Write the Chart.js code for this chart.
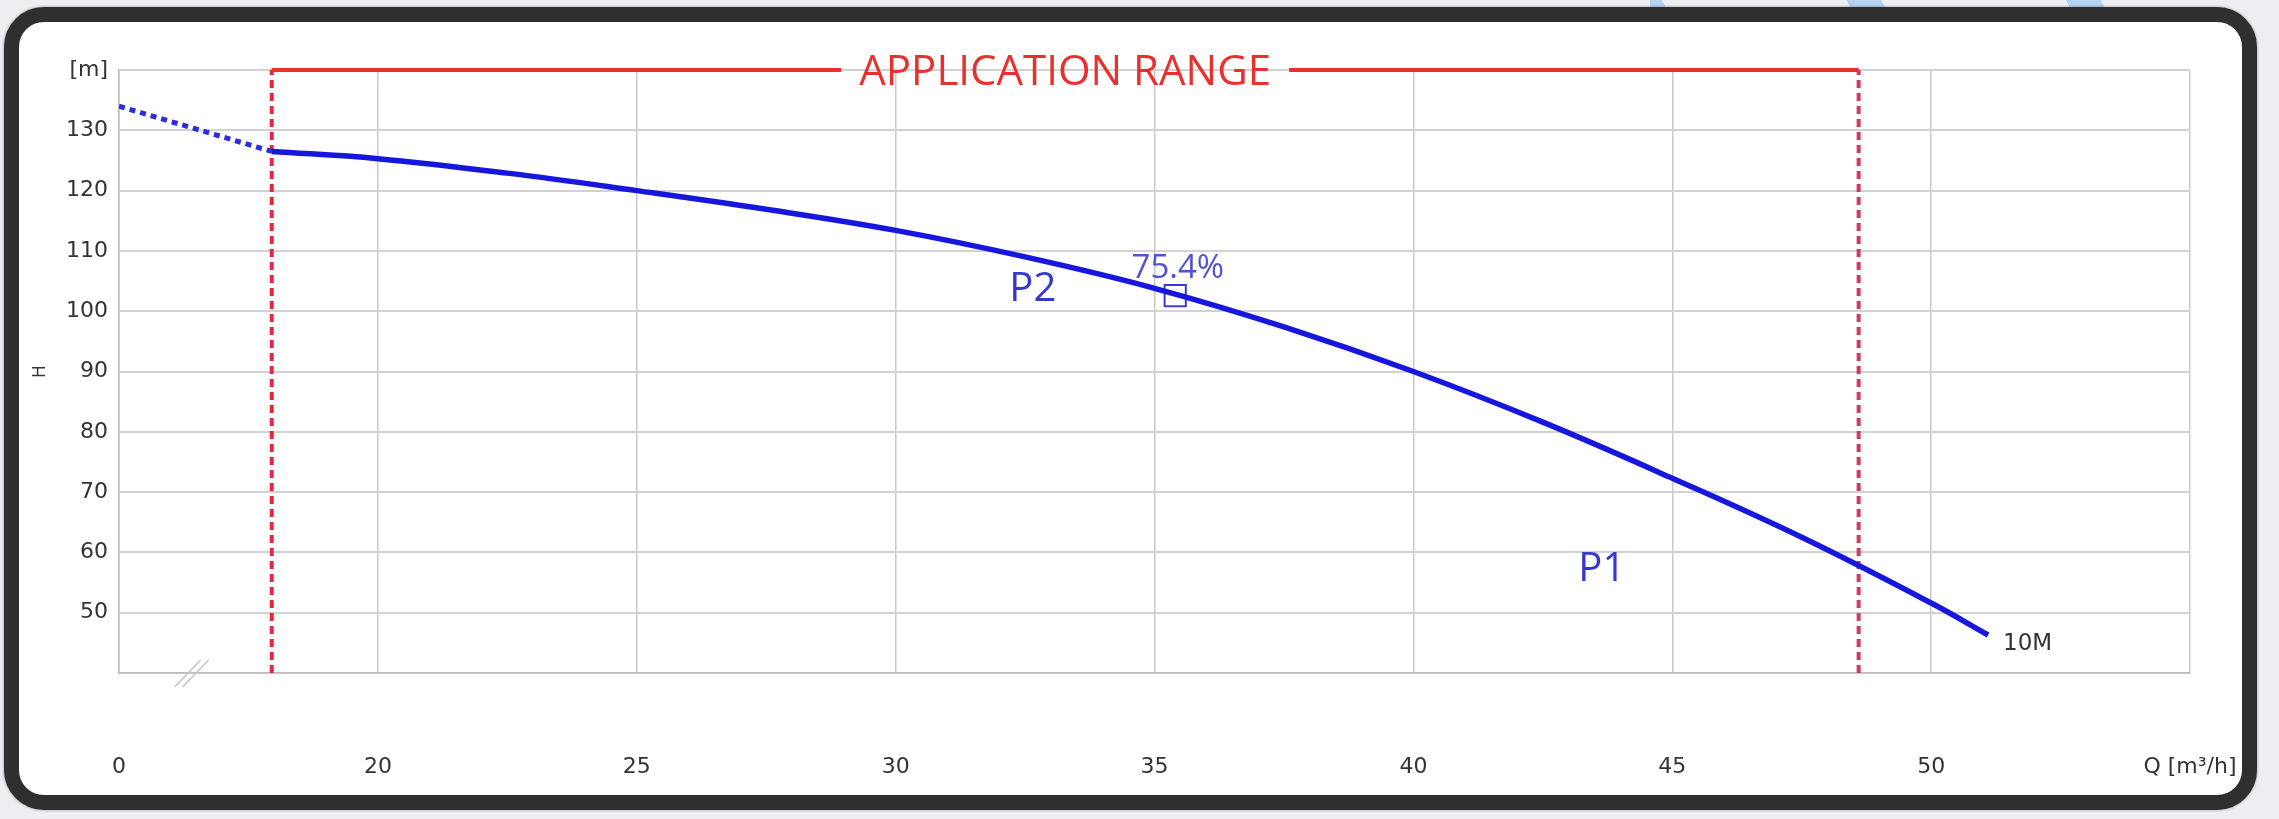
<!DOCTYPE html>
<html>
<head>
<meta charset="utf-8">
<title>Pump curve 10M</title>
<script src="https://cdn.jsdelivr.net/npm/chart.js@4.4.1/dist/chart.umd.min.js"></script>
<style>
    html, body {
        margin: 0;
        padding: 0;
        width: 2279px;
        height: 819px;
        overflow: hidden;
        background: #eceef1;
    }
    .stripes {
        position: absolute;
        left: 1650px;
        top: 0;
        width: 629px;
        height: 180px;
        background: repeating-linear-gradient(60deg, transparent 0 70px, #a8cdf1 70px 100px, transparent 100px 190px);
        opacity: 0.8;
    }
    .frame {
        position: absolute;
        left: 4px;
        top: 7px;
        width: 2253px;
        height: 803px;
        box-sizing: border-box;
        border: 15px solid #2f2f2f;
        border-radius: 40px;
        background: #ffffff;
        box-shadow: 0 0 3px rgba(0, 0, 0, 0.4);
    }
    #pumpChart {
        position: absolute;
        left: 0;
        top: 0;
    }
</style>
</head>
<body>
<div class="stripes"></div>
<div class="frame"></div>
<canvas id="pumpChart" width="2279" height="819"></canvas>

<script>
// Q-H curve, 10M
const curveQ = [17.95, 20, 22.5, 25, 27.5, 30, 32.5, 35, 37.5, 40, 42.5, 45, 47.5, 50, 51.1];
const curveH = [126.5, 125.3, 122.9, 120.0, 116.9, 113.4, 109.0, 103.8, 97.4, 90.0, 81.6, 72.3, 62.5, 51.6, 46.3];

// dotted part left of the application range
const extQ = [15, 17.95];
const extH = [134.0, 126.5];

// application range limits
const rangeStart = 17.95;
const rangeEnd = 48.6;

// best efficiency point
const bepQ = [35.4];
const bepH = [102.6];

// axis ticks (left edge is a broken axis, labelled 0)
const xTicks = [15, 20, 25, 30, 35, 40, 45, 50, 55];
const xTickLabels = ['0', '20', '25', '30', '35', '40', '45', '50', 'Q [m³/h]'];
const yTicks = [40, 50, 60, 70, 80, 90, 100, 110, 120, 130, 140];
const yTickLabels = ['', '50', '60', '70', '80', '90', '100', '110', '120', '130', '[m]'];

// text labels on the plot, anchored at the text baseline
const labels = [
    { text: '75.4%', q: 35.45, h: 105.5, align: 'center', font: '33px "Open Sans"', color: '#5252d2' },
    { text: 'P2', q: 32.65, h: 101.7, align: 'center', font: '40px "Open Sans"', color: '#3636d4' },
    { text: 'P1', q: 43.64, h: 55.3, align: 'center', font: '40px "Open Sans"', color: '#3636d4' },
    { text: '10M', q: 51.39, h: 43.8, align: 'left', font: '23px "DejaVu Sans"', color: '#333333' }
];

const colors = {
    curve: '#1616dc',
    dotted: '#2c2cd8',
    range: '#e6283f',
    rangeTop: '#e8302f',
    grid: '#d2d2d2',
    gridV: '#c9c9c9',
    border: '#bdbdbd',
    text: '#333333'
};

function toPoints(xs, ys) {
    return xs.map((x, i) => ({ x: x, y: ys[i] }));
}

// draws the application range header, the text labels and the axis break mark
const overlayPlugin = {
    id: 'overlay',
    afterDatasetsDraw: function(chart) {
        const ctx = chart.ctx;
        const xs = chart.scales.x;
        const ys = chart.scales.y;

        ctx.save();

        // application range top line with title
        const x1 = xs.getPixelForValue(rangeStart);
        const x2 = xs.getPixelForValue(rangeEnd);
        const yTop = ys.getPixelForValue(140);
        const mid = (x1 + x2) / 2;
        ctx.font = '42px "Open Sans"';
        const title = 'APPLICATION RANGE';
        const w = ctx.measureText(title).width;
        const gap = 18;
        ctx.strokeStyle = colors.rangeTop;
        ctx.lineWidth = 4;
        ctx.beginPath();
        ctx.moveTo(x1, yTop);
        ctx.lineTo(mid - w / 2 - gap, yTop);
        ctx.moveTo(mid + w / 2 + gap, yTop);
        ctx.lineTo(x2, yTop);
        ctx.stroke();
        ctx.fillStyle = colors.rangeTop;
        ctx.textAlign = 'center';
        ctx.textBaseline = 'alphabetic';
        ctx.fillText(title, mid, yTop + 15);

        // labels
        labels.forEach(function(l) {
            ctx.font = l.font;
            ctx.fillStyle = l.color;
            ctx.textAlign = l.align;
            ctx.fillText(l.text, xs.getPixelForValue(l.q), ys.getPixelForValue(l.h));
        });

        // axis break mark
        const bx = xs.getPixelForValue(16.5);
        const by = ys.getPixelForValue(40);
        ctx.strokeStyle = '#c4c4c4';
        ctx.lineWidth = 1.5;
        ctx.beginPath();
        ctx.moveTo(bx - 22, by + 14);
        ctx.lineTo(bx + 4, by - 13);
        ctx.moveTo(bx - 14, by + 14);
        ctx.lineTo(bx + 12, by - 13);
        ctx.stroke();

        ctx.restore();
    }
};

function initPumpChart() {
    const ctx = document.getElementById('pumpChart');
    if (!ctx) return;

    new Chart(ctx, {
        type: 'line',
        data: {
            datasets: [{
                label: '10M',
                data: toPoints(curveQ, curveH),
                borderColor: colors.curve,
                borderWidth: 5.5,
                pointRadius: 0,
                tension: 0.4,
                fill: false
            }, {
                label: 'BEP',
                data: toPoints(bepQ, bepH),
                showLine: false,
                pointStyle: 'rect',
                pointRadius: 15,
                pointBorderWidth: 2,
                pointBorderColor: '#3c3cd2',
                pointBackgroundColor: 'rgba(0,0,0,0)'
            }, {
                label: 'extension',
                data: toPoints(extQ, extH),
                borderColor: colors.dotted,
                borderWidth: 5,
                borderDash: [6, 5],
                pointRadius: 0,
                fill: false
            }, {
                label: 'range start',
                data: toPoints([rangeStart, rangeStart], [40, 140]),
                borderColor: colors.range,
                borderWidth: 4,
                borderDash: [8, 5],
                pointRadius: 0
            }, {
                label: 'range end',
                data: toPoints([rangeEnd, rangeEnd], [40, 140]),
                borderColor: '#d23a5a',
                borderWidth: 4,
                borderDash: [8, 5],
                pointRadius: 0
            }]
        },
        options: {
            responsive: false,
            devicePixelRatio: 1,
            animation: false,
            layout: {
                padding: { top: 70, right: 89, bottom: 0, left: 0 }
            },
            plugins: {
                legend: { display: false },
                tooltip: { enabled: false }
            },
            scales: {
                x: {
                    type: 'linear',
                    min: 15,
                    max: 55,
                    afterFit: function(scale) {
                        scale.height = 146;
                        // labels sit far below the axis, don't let that padding shrink the plot
                        scale.paddingLeft = 0;
                        scale.paddingRight = 0;
                    },
                    afterBuildTicks: function(scale) {
                        scale.ticks = xTicks.map(v => ({ value: v }));
                    },
                    ticks: {
                        padding: 81,
                        color: colors.text,
                        font: { family: '"DejaVu Sans"', size: 22 },
                        maxRotation: 0,
                        autoSkip: false,
                        callback: function(value, index) {
                            return xTickLabels[index];
                        }
                    },
                    grid: {
                        color: colors.gridV,
                        lineWidth: 1.5,
                        drawTicks: false
                    },
                    border: { color: colors.border, width: 1.5 }
                },
                y: {
                    min: 40,
                    max: 140,
                    afterFit: function(scale) { scale.width = 119; },
                    afterBuildTicks: function(scale) {
                        scale.ticks = yTicks.map(v => ({ value: v }));
                    },
                    title: {
                        display: true,
                        text: 'H',
                        color: colors.text,
                        font: { family: '"DejaVu Sans"', size: 17 },
                        padding: { top: 30, bottom: 0 }
                    },
                    ticks: {
                        padding: 11,
                        color: colors.text,
                        font: { family: '"DejaVu Sans"', size: 22 },
                        autoSkip: false,
                        callback: function(value, index) {
                            return yTickLabels[index];
                        }
                    },
                    grid: {
                        color: colors.grid,
                        lineWidth: 2,
                        drawTicks: false
                    },
                    border: { color: colors.border, width: 1.5 }
                }
            }
        },
        plugins: [overlayPlugin]
    });
}

document.addEventListener('DOMContentLoaded', initPumpChart);
</script>
</body>
</html>
